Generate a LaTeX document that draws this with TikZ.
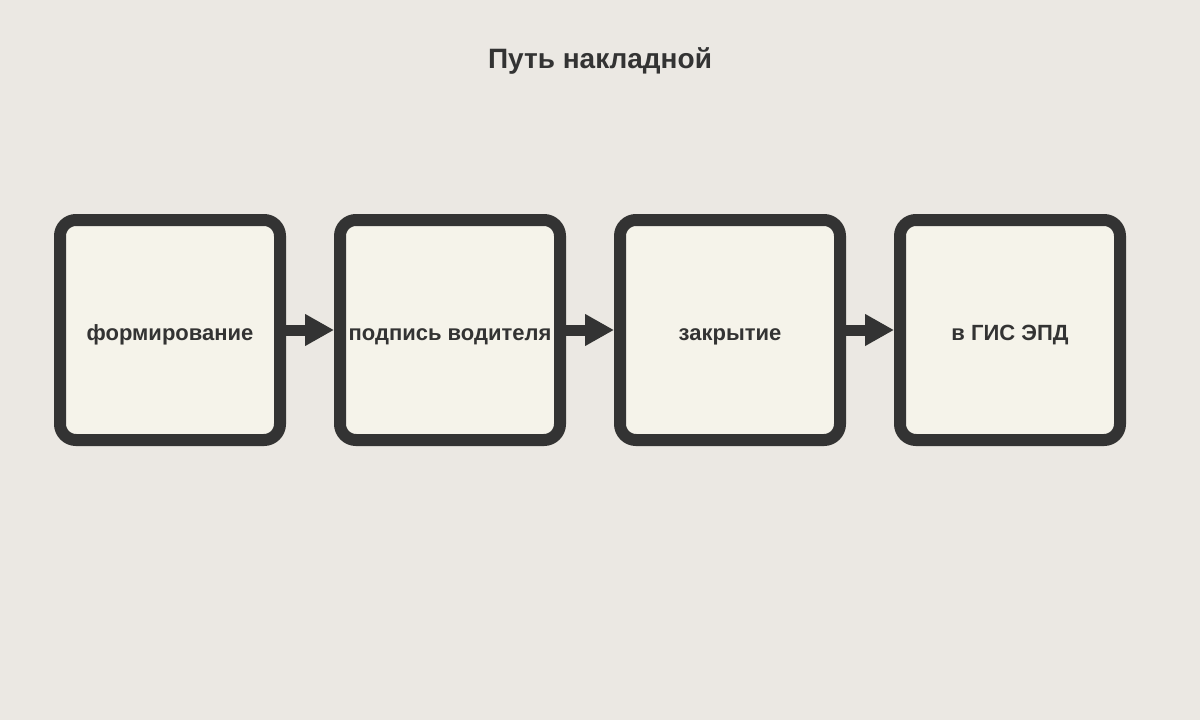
\documentclass[tikz,border=0pt]{standalone}
\usepackage{fontspec}
\setmainfont{Liberation Sans}
\usetikzlibrary{arrows.meta}
\definecolor{bgc}{HTML}{EBE8E3}
\definecolor{boxfill}{HTML}{F5F3EA}
\definecolor{ink}{HTML}{333333}
\tikzset{
  stage/.style={draw=ink, fill=boxfill, line width=12pt, rounded corners=16pt,
    minimum width=220pt, minimum height=220pt, inner sep=0pt,
    text height=22pt, text depth=2pt,
    text=ink, font=\bfseries\fontsize{22}{26}\selectfont},
  flow/.style={draw=ink, line width=11pt,
    -{Triangle[length=29pt,width=30pt]}}
}
\begin{document}
\begin{tikzpicture}[x=1pt,y=-1pt]
\fill[bgc] (0,0) rectangle (1200,720);
\useasboundingbox (0,0) rectangle (1200,720);
\node[text=ink, font=\bfseries\fontsize{28}{32}\selectfont] (title) at (600,61) {Путь накладной};
\node[stage] (s1) at (170,330) {формирование};
\node[stage] (s2) at (450,330) {подпись водителя};
\node[stage] (s3) at (730,330) {закрытие};
\node[stage] (s4) at (1010,330) {в ГИС ЭПД};
\draw[flow] (s1.east) -- (s2.west);
\draw[flow] (s2.east) -- (s3.west);
\draw[flow] (s3.east) -- (s4.west);
\end{tikzpicture}
\end{document}
